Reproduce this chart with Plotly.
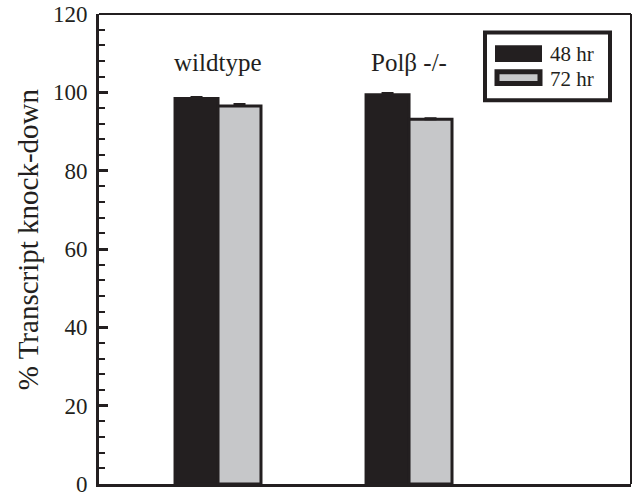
import plotly.graph_objects as go

# ---- data ----
groups = ["wildtype", "Polβ -/-"]
group_pos = [1, 2]
series_names = ["48 hr", "72 hr"]
values_48 = [98.4, 99.4]
values_72 = [96.5, 93.1]
err_48 = [0.4, 0.4]
err_72 = [0.5, 0.3]
yticks = [0, 20, 40, 60, 80, 100, 120]

# ---- layout constants ----
W, H = 633, 499
ML, MR, MT, MB = 99, 2, 10, 9
PW, PH = W - ML - MR, H - MT - MB
BLACK = "#231f20"
GRAY = "#c6c7c9"
FONT = "Liberation Serif"
BAR_W = 0.225


def px(x):
    return (x - ML) / PW


def py(y):
    return (H - MB - y) / PH


fig = go.Figure()
fig.add_trace(go.Bar(
    x=[g - BAR_W / 2 for g in group_pos], y=values_48, width=BAR_W,
    name=series_names[0],
    marker=dict(color=BLACK, line=dict(color=BLACK, width=3)),
    error_y=dict(type="data", array=err_48, arrayminus=[0, 0], color=BLACK,
                 thickness=2, width=6),
    showlegend=False,
))
fig.add_trace(go.Bar(
    x=[g + BAR_W / 2 for g in group_pos], y=values_72, width=BAR_W,
    name=series_names[1],
    marker=dict(color=GRAY, line=dict(color=BLACK, width=3)),
    error_y=dict(type="data", array=err_72, arrayminus=[0, 0], color=BLACK,
                 thickness=2, width=6),
    showlegend=False,
))

annotations = []
for g, label in zip(group_pos, groups):
    annotations.append(dict(x=g, y=107.5, xref="x", yref="y", text=label,
                            showarrow=False, font=dict(size=25, color=BLACK, family=FONT),
                            xanchor="center", yanchor="middle"))

# y title
annotations.append(dict(x=px(28), y=py(240), xref="paper", yref="paper",
                        text="% Transcript knock-down", textangle=-90, showarrow=False,
                        font=dict(size=29, color=BLACK, family=FONT),
                        xanchor="center", yanchor="middle"))

shapes = []
# frame top/right
shapes.append(dict(type="line", xref="paper", yref="paper", x0=0, x1=1, y0=1, y1=1,
                   line=dict(color=BLACK, width=2)))
shapes.append(dict(type="line", xref="paper", yref="paper", x0=1, x1=1, y0=0, y1=1,
                   line=dict(color=BLACK, width=2)))
# legend box
shapes.append(dict(type="rect", xref="paper", yref="paper",
                   x0=px(485), x1=px(610), y0=py(98), y1=py(29),
                   line=dict(color=BLACK, width=4), fillcolor="white"))
# legend swatches
shapes.append(dict(type="rect", xref="paper", yref="paper",
                   x0=px(495), x1=px(542), y0=py(59), y1=py(42),
                   line=dict(color=BLACK, width=0), fillcolor=BLACK))
shapes.append(dict(type="rect", xref="paper", yref="paper",
                   x0=px(497), x1=px(540), y0=py(81), y1=py(69),
                   line=dict(color=BLACK, width=5), fillcolor=GRAY))
for name, yc in zip(series_names, [51, 76]):
    annotations.append(dict(x=px(548), y=py(yc), xref="paper", yref="paper",
                            text=name, showarrow=False,
                            font=dict(size=21, color=BLACK, family=FONT),
                            xanchor="left", yanchor="middle"))

fig.update_layout(
    width=W, height=H,
    margin=dict(l=ML, r=MR, t=MT, b=MB),
    paper_bgcolor="white", plot_bgcolor="white",
    barmode="overlay",
    showlegend=False,
    xaxis=dict(range=[0.377, 3.162], showticklabels=False, ticks="",
               showgrid=False, zeroline=False, showline=True,
               linecolor=BLACK, linewidth=3),
    yaxis=dict(range=[0, 120], tickvals=yticks, ticks="inside", ticklen=9,
               tickwidth=3, tickcolor=BLACK, showgrid=False, zeroline=False,
               showline=True, linecolor=BLACK, linewidth=3,
               ticklabeloverflow="allow", ticklabelstandoff=4,
               tickfont=dict(size=23, color=BLACK, family=FONT),
               minor=dict(dtick=4, ticks="inside", ticklen=6, tickwidth=2,
                          tickcolor=BLACK, showgrid=False)),
    annotations=annotations,
    shapes=shapes,
)

fig.write_html("out.html")
